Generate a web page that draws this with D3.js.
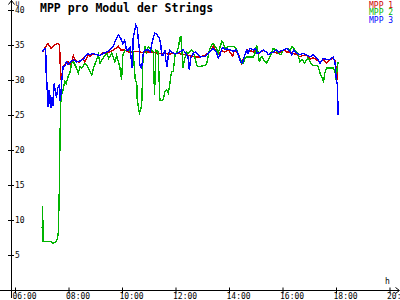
<!DOCTYPE html>
<html>
<head>
<meta charset="utf-8">
<script src="https://cdn.jsdelivr.net/npm/d3@7"></script>
<style>
  body { margin: 0; background: #fff; }
  svg { display: block; }
  text { font-family: "DejaVu Sans Mono", monospace; }
</style>
</head>
<body>
<div id="mppChart"></div>
<script>
// series names + colours
const seriesNames = ["MPP 1", "MPP 2", "MPP 3"];
const seriesColors = ["#cc0000", "#00b400", "#0000ff"];

// x ticks (every 2 hours) and y ticks
const xTicks = ["06:00", "08:00", "10:00", "12:00", "14:00", "16:00", "18:00", "20:00"];
const yTicks = [5, 10, 15, 20, 25, 30, 35, 40];

// MPP 1 (red) - [time, volts]
const mpp1 = [
  ["07:02", 34.0], ["07:07", 34.6], ["07:14", 35.2], ["07:21", 34.5], ["07:27", 34.9],
  ["07:34", 35.2], ["07:40", 35.1], ["07:42", 31.2], ["07:43", 30.0], ["07:45", 30.8],
  ["07:50", 32.1], ["07:55", 32.4], ["07:59", 32.6], ["08:03", 32.2], ["08:07", 32.5],
  ["08:11", 33.5], ["08:15", 32.8], ["08:22", 32.6], ["08:26", 32.6], ["08:33", 33.1],
  ["08:36", 32.6], ["08:40", 33.0], ["08:44", 33.6], ["08:48", 33.4], ["08:55", 33.7],
  ["09:03", 33.6], ["09:11", 33.5], ["09:17", 33.9], ["09:26", 33.8], ["09:33", 34.0],
  ["09:41", 34.3], ["09:48", 34.6], ["09:52", 34.8], ["09:57", 34.3], ["10:05", 34.3],
  ["10:15", 34.0], ["10:25", 34.0], ["10:35", 34.1], ["10:45", 33.9], ["10:55", 34.0],
  ["11:05", 34.0], ["11:15", 33.9], ["11:25", 33.8], ["11:35", 33.8], ["11:45", 33.7],
  ["11:55", 33.8], ["12:05", 33.8], ["12:15", 33.7], ["12:25", 33.6], ["12:35", 33.4],
  ["12:48", 33.3], ["12:55", 33.3], ["13:06", 33.5], ["13:17", 34.0], ["13:25", 34.8],
  ["13:32", 34.0], ["13:40", 33.8], ["13:44", 34.2], ["13:51", 34.0], ["13:58", 34.3],
  ["14:02", 34.0], ["14:08", 33.4], ["14:12", 34.2], ["14:21", 33.8], ["14:26", 32.6],
  ["14:28", 32.4], ["14:34", 33.3], ["14:40", 34.3], ["14:47", 34.2], ["14:55", 34.0],
  ["15:02", 34.3], ["15:08", 33.8], ["15:17", 34.3], ["15:24", 34.0], ["15:28", 33.6],
  ["15:39", 34.0], ["15:51", 33.8], ["16:02", 34.3], ["16:10", 34.0], ["16:17", 34.0],
  ["16:25", 33.8], ["16:32", 33.6], ["16:39", 33.3], ["16:46", 33.5], ["16:54", 33.5],
  ["17:02", 33.0], ["17:09", 33.2], ["17:17", 32.8], ["17:24", 32.6], ["17:32", 32.9],
  ["17:39", 32.4], ["17:47", 32.9], ["17:54", 33.1], ["17:58", 32.7], ["18:02", 31.0],
  ["18:03", 30.0]
];

// MPP 2 (green)
const mpp2 = [
  ["07:01", 8.8], ["07:02", 12.0], ["07:03", 6.9], ["07:10", 6.9], ["07:20", 6.9],
  ["07:25", 6.7], ["07:28", 6.8], ["07:32", 6.9], ["07:35", 7.3], ["07:37", 8.2],
  ["07:39", 13.0], ["07:41", 22.0], ["07:43", 27.6], ["07:47", 28.4], ["07:52", 29.8],
  ["07:55", 29.5], ["07:59", 30.5], ["08:03", 31.0], ["08:07", 32.4], ["08:11", 32.6],
  ["08:18", 31.7], ["08:22", 31.0], ["08:26", 31.9], ["08:30", 31.7], ["08:37", 32.4],
  ["08:41", 32.1], ["08:48", 31.2], ["08:52", 30.7], ["08:56", 31.7], ["09:03", 32.9],
  ["09:07", 33.6], ["09:11", 32.4], ["09:17", 33.1], ["09:26", 33.8], ["09:30", 33.1],
  ["09:37", 33.8], ["09:44", 32.6], ["09:48", 33.5], ["09:55", 31.9], ["09:59", 30.0],
  ["10:02", 33.6], ["10:06", 34.2], ["10:10", 34.3], ["10:18", 34.1], ["10:25", 34.0],
  ["10:30", 29.8], ["10:33", 29.8], ["10:34", 27.4], ["10:37", 26.0], ["10:39", 25.3],
  ["10:43", 26.0], ["10:45", 27.4], ["10:46", 31.9], ["10:48", 33.6], ["10:52", 34.8],
  ["10:55", 34.0], ["10:59", 34.8], ["11:03", 34.5], ["11:10", 34.0], ["11:13", 27.9],
  ["11:16", 34.3], ["11:21", 34.0], ["11:25", 27.1], ["11:29", 27.1], ["11:33", 27.3],
  ["11:36", 28.3], ["11:40", 28.6], ["11:44", 28.1], ["11:48", 29.8], ["11:51", 31.2],
  ["11:55", 31.2], ["11:59", 33.6], ["12:02", 33.9], ["12:06", 34.5], ["12:10", 36.0],
  ["12:12", 36.2], ["12:15", 33.6], ["12:17", 31.7], ["12:20", 32.9], ["12:25", 34.0],
  ["12:28", 33.8], ["12:32", 34.0], ["12:36", 34.3], ["12:40", 34.0], ["12:44", 33.1],
  ["12:48", 32.1], ["12:52", 31.9], ["12:55", 31.9], ["13:00", 32.0], ["13:06", 32.1],
  ["13:10", 32.3], ["13:14", 33.6], ["13:17", 34.5], ["13:21", 35.0], ["13:25", 35.2],
  ["13:32", 34.5], ["13:36", 33.8], ["13:40", 34.8], ["13:44", 35.5], ["13:47", 35.3],
  ["13:51", 34.5], ["14:00", 34.8], ["14:10", 34.8], ["14:16", 34.5], ["14:21", 33.6],
  ["14:26", 32.9], ["14:28", 32.4], ["14:32", 32.4], ["14:36", 33.1], ["14:40", 33.3],
  ["14:47", 33.3], ["14:55", 33.3], ["14:58", 33.8], ["15:02", 35.0], ["15:06", 33.6],
  ["15:08", 32.6], ["15:11", 33.1], ["15:14", 33.3], ["15:17", 33.0], ["15:21", 32.6],
  ["15:24", 32.4], ["15:28", 32.9], ["15:32", 33.3], ["15:35", 33.8], ["15:39", 34.5],
  ["15:45", 34.3], ["15:51", 33.8], ["15:56", 33.6], ["16:02", 34.3], ["16:10", 34.5],
  ["16:17", 34.3], ["16:21", 34.8], ["16:25", 34.5], ["16:32", 34.0], ["16:35", 33.6],
  ["16:39", 32.6], ["16:44", 32.9], ["16:50", 32.4], ["16:56", 33.1], ["17:00", 32.9],
  ["17:04", 32.4], ["17:09", 32.1], ["17:17", 32.1], ["17:20", 31.9], ["17:24", 31.0],
  ["17:28", 30.5], ["17:32", 29.8], ["17:35", 31.0], ["17:39", 31.7], ["17:47", 31.7],
  ["17:54", 31.7], ["17:58", 31.2], ["18:00", 30.0], ["18:03", 31.9], ["18:05", 32.6]
];

// MPP 3 (blue)
const mpp3 = [
  ["07:01", 34.0], ["07:03", 34.2], ["07:07", 34.5], ["07:09", 34.0], ["07:10", 31.0],
  ["07:12", 29.0], ["07:14", 26.2], ["07:16", 28.5], ["07:18", 26.6], ["07:19", 27.8],
  ["07:21", 26.0], ["07:23", 27.5], ["07:25", 26.3], ["07:28", 29.5], ["07:30", 28.6],
  ["07:33", 27.5], ["07:36", 28.9], ["07:39", 29.2], ["07:41", 27.0], ["07:43", 28.0],
  ["07:45", 30.0], ["07:48", 31.9], ["07:52", 32.0], ["07:55", 32.6], ["07:59", 32.2],
  ["08:03", 32.4], ["08:07", 32.7], ["08:11", 32.9], ["08:18", 32.6], ["08:26", 32.7],
  ["08:33", 33.0], ["08:40", 33.5], ["08:44", 33.8], ["08:48", 33.6], ["08:55", 33.8],
  ["09:03", 33.6], ["09:11", 33.5], ["09:17", 33.8], ["09:26", 34.0], ["09:33", 34.3],
  ["09:41", 34.8], ["09:44", 35.5], ["09:52", 36.4], ["09:57", 36.0], ["10:02", 35.2],
  ["10:06", 35.7], ["10:10", 34.3], ["10:14", 34.3], ["10:18", 34.6], ["10:23", 31.7],
  ["10:25", 36.0], ["10:31", 37.9], ["10:34", 37.5], ["10:37", 35.5], ["10:39", 34.3],
  ["10:40", 32.1], ["10:44", 31.7], ["10:48", 34.0], ["10:52", 34.3], ["10:59", 34.3],
  ["11:03", 34.0], ["11:10", 36.0], ["11:14", 36.7], ["11:18", 36.5], ["11:21", 36.2],
  ["11:24", 36.0], ["11:27", 35.0], ["11:29", 33.6], ["11:33", 33.6], ["11:36", 34.3],
  ["11:38", 33.0], ["11:41", 31.8], ["11:44", 33.6], ["11:47", 34.3], ["11:51", 34.0],
  ["12:00", 33.7], ["12:10", 34.0], ["12:17", 34.3], ["12:21", 34.0], ["12:25", 33.6],
  ["12:28", 33.4], ["12:31", 31.4], ["12:34", 33.1], ["12:40", 33.8], ["12:44", 34.0],
  ["12:55", 33.3], ["13:06", 33.4], ["13:17", 34.0], ["13:25", 34.5], ["13:32", 34.0],
  ["13:36", 33.1], ["13:40", 33.6], ["13:44", 34.5], ["13:48", 34.6], ["13:51", 34.3],
  ["13:55", 34.5], ["14:02", 34.3], ["14:10", 34.1], ["14:16", 34.3], ["14:21", 33.6],
  ["14:26", 32.6], ["14:30", 32.4], ["14:34", 33.3], ["14:40", 34.3], ["14:43", 33.8],
  ["14:47", 34.5], ["14:55", 34.3], ["15:00", 34.5], ["15:03", 33.8], ["15:10", 34.0],
  ["15:17", 34.3], ["15:24", 34.0], ["15:28", 33.6], ["15:32", 33.8], ["15:39", 34.0],
  ["15:46", 34.3], ["15:51", 34.0], ["16:02", 34.3], ["16:10", 34.5], ["16:17", 34.0],
  ["16:21", 33.6], ["16:25", 34.3], ["16:32", 33.8], ["16:39", 33.6], ["16:46", 33.8],
  ["16:54", 33.6], ["17:02", 33.3], ["17:09", 33.6], ["17:17", 33.1], ["17:20", 32.9],
  ["17:24", 32.4], ["17:32", 33.1], ["17:39", 32.9], ["17:47", 32.9], ["17:50", 33.1],
  ["17:54", 33.3], ["17:58", 32.4], ["18:00", 30.5], ["18:03", 29.3], ["18:05", 25.0]
];

class MppChart {

  constructor(_series) {
    this.series = _series;
    this.initVis();
  }

  initVis() {
    let vis = this;
    vis.width = 400;
    vis.height = 300;
    vis.parseTime = d3.timeParse("%H:%M");

    vis.svg = d3.select("#mppChart")
      .append("svg")
        .attr("width", vis.width)
        .attr("height", vis.height);

    // 06:00 .. 20:00 on the x axis, 0 .. 40 V on the y axis
    vis.xScale = d3.scaleTime()
      .domain([vis.parseTime("06:00"), vis.parseTime("20:00")])
      .range([15, 389.5]);

    vis.yScale = d3.scaleLinear()
      .domain([0, 40])
      .range([290, 10]);

    // title
    vis.svg.append("text")
      .attr("x", 40)
      .attr("y", 11.5)
      .style("font-size", "11.5px")
      .style("font-weight", "bold")
      .text("MPP pro Modul der Strings");

    // legend, top right
    vis.svg.append("g").selectAll("text")
      .data(seriesNames)
      .join("text")
        .attr("x", 369)
        .attr("y", (d, i) => 7.5 + i * 7.6)
        .style("font-size", "8px")
        .style("fill", (d, i) => seriesColors[i])
        .text(d => d);
  }

  updateVis() {
    let vis = this;

    // y axis: ticks cross the line, labels on the right
    vis.yAxis = vis.svg.append("g")
      .attr("transform", "translate(11,0)")
      .call(d3.axisRight(vis.yScale).tickValues(yTicks).tickSize(3).tickPadding(1));
    vis.yAxis.select(".domain").remove();
    vis.yAxis.selectAll(".tick line").attr("x1", -3).attr("x2", 3).attr("shape-rendering", "crispEdges");
    vis.yAxis.selectAll(".tick text")
      .attr("x", 4)
      .attr("dy", "0.35em")
      .style("font-size", "8px")
      .style("font-family", "DejaVu Sans Mono");

    // x axis
    vis.xAxis = vis.svg.append("g")
      .attr("transform", "translate(0,290.5)")
      .call(d3.axisBottom(vis.xScale)
        .tickValues(xTicks.map(vis.parseTime))
        .tickFormat(d3.timeFormat("%H:%M"))
        .tickSize(3));
    vis.xAxis.select(".domain").remove();
    vis.xAxis.selectAll(".tick line").attr("y1", -3).attr("y2", 3);
    vis.xAxis.selectAll(".tick text")
      .attr("x", -3)
      .attr("y", 2.5)
      .attr("text-anchor", "start")
      .style("font-size", "8px")
      .style("font-family", "DejaVu Sans Mono");

    // axis lines with arrows
    vis.svg.append("line")
      .attr("x1", 11.5).attr("x2", 11.5).attr("y1", 0).attr("y2", 298)
      .attr("stroke", "#000");
    vis.svg.append("path")
      .attr("d", "M8.5,4.5 L11.5,0.5 L14.5,4.5")
      .attr("fill", "none").attr("stroke", "#000");
    vis.svg.append("text")
      .attr("x", 15.5).attr("y", 5.5)
      .style("font-size", "6.5px")
      .text("U");

    vis.svg.append("line")
      .attr("x1", 0).attr("x2", 399).attr("y1", 290.5).attr("y2", 290.5)
      .attr("stroke", "#000");
    vis.svg.append("path")
      .attr("d", "M395.5,287.5 L399.5,290.5 L395.5,293.5")
      .attr("fill", "none").attr("stroke", "#000");
    vis.svg.append("text")
      .attr("x", 385).attr("y", 284)
      .style("font-size", "8px")
      .text("h");

    // the three MPP lines, blue on top
    vis.line = d3.line()
      .x(d => vis.xScale(vis.parseTime(d[0])))
      .y(d => vis.yScale(d[1]));

    vis.svg.append("g").selectAll("path")
      .data(vis.series)
      .join("path")
        .attr("d", d => vis.line(d))
        .attr("fill", "none")
        .attr("stroke", (d, i) => seriesColors[i])
        .attr("stroke-width", 1.4)
        .attr("shape-rendering", "crispEdges");
  }
}

let chart = new MppChart([mpp1, mpp2, mpp3]);
chart.updateVis();
</script>
</body>
</html>
